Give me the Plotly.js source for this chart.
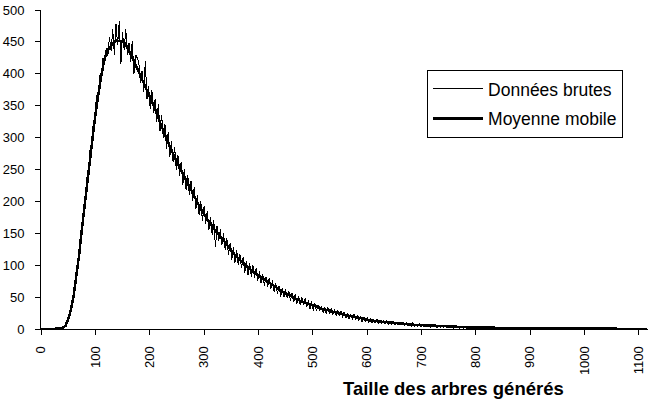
<!DOCTYPE html>
<html>
<head>
<meta charset="utf-8">
<script src="https://cdn.plot.ly/plotly-3.0.1.min.js"></script>
<style>
  html, body { margin: 0; padding: 0; background: #ffffff; }
  #chart { width: 649px; height: 399px; }
  #chart .scatterlayer path.js-line,
  #chart .legend path.js-line { shape-rendering: crispEdges; }
</style>
</head>
<body>
<div id="chart"></div>
<script>
// ---- Data ----
// Raw data ("Données brutes"): sampled every 3 units starting at x = 0
const rawStart = 0;
const rawStep = 3;
const rawValues = [
  0,0,0,0,0,0,0,0,0,0,
  0,0,1,2,2,6,9,19,25,40,
  58,64,95,101,138,150,186,196,236,244,
  280,283,322,328,366,361,398,390,425,415,
  440,428,458,436,470,430,478,445,482,415,
  465,438,470,430,448,418,452,400,430,425,
  418,385,405,372,420,360,380,345,375,338,
  360,325,352,310,335,300,322,282,308,270,
  295,262,285,250,272,240,262,226,250,218,
  242,210,232,200,222,188,210,178,200,170,
  192,165,185,155,176,148,170,128,162,138,
  156,132,150,124,142,116,135,108,128,104,
  124,100,118,95,112,88,106,85,104,82,
  100,80,96,76,90,72,86,68,82,66,
  80,63,76,58,72,55,68,51,64,50,
  63,48,60,44,56,42,55,40,52,38,
  50,37,48,34,45,32,43,29,40,28,
  38,28,36,26,35,24,34,23,32,22,
  31,21,29,20,28,18,27,17,25,16,
  24,15,23,14,21,13,20,11,19,11,
  18,10,17,10,15,9,16,8,14,8,
  14,8,13,7,13,7,12,6,11,6,
  11,6,11,5,10,5,9,4,10,4,
  8,4,9,3,8,3,8,3,7,3,
  7,3,6,2,6,2,6,2,6,2,
  5,2,5,1,5,2,4,1,4,1,
  4,1,4,1,3,1,4,1,3,1,
  3,1,3,1,2,1,3,2,2,1,
  2,1,3,1,2,1,2,2,2,1,
  2,1,2,1,2,1,2,1,2,1,
  2,1,1,1,2,0,2,1,1,1,
  1,1,2,0,1,1,1,0,2,1,
  1,0,1,1,2,2,2,2,1,1,
  1,0,1,0,0,0,0,0,0,0,
  0,0,0,0,0,0,0,0,0,0,
  0,0,0,0,0,0,0,0,0,0,
  0,0,0,0,0,0,0,0,0,0,
  0,0,0
];

// Moving average ("Moyenne mobile")
const maX = [
  0,30,35,40,45,50,55,60,65,70,75,80,85,90,95,100,105,110,115,120,
  125,130,135,140,145,150,155,160,165,170,175,180,185,190,195,200,
  210,220,230,240,250,260,270,280,290,300,310,320,330,340,350,360,370,380,390,400,
  410,420,430,440,450,460,470,480,490,500,510,520,530,540,550,560,570,580,590,600,
  610,620,630,640,650,660,670,680,690,700,710,720,730,740,750,760,770,780,790,800,
  820,840,860,880,900,920,940,960,980,1000,1010,1116
];
const maY = [
  0,0,0.5,2,5,15,30,52,80,115,155,192,235,268,300,335,365,393,415,432,
  440,446,450,452,452,451,447,440,431,422,412,403,394,385,375,365,
  345,322,300,280,262,245,228,211,195,180,167,155,145,134,123,113,105,97,90,84,
  78,72,66,61,56,51,47,43,40,36,33,31,29,26,24,22,20,18,16,14,
  13,12,11,10,9.5,9,8,7,6.5,6,5.5,5,4.5,4,3.7,3.4,3,2.7,2.5,2.2,
  2,1.8,1.6,1.4,1.2,1.1,1,1,1,0.5,0,0
];

const xTickVals = [0,100,200,300,400,500,600,700,800,900,1000,1100];
const yTickVals = [0,50,100,150,200,250,300,350,400,450,500];
const seriesNames = ["Données brutes", "Moyenne mobile"];
const xAxisTitle = "Taille des arbres générés";

// ---- Build traces ----
const rawX = rawValues.map((_, i) => rawStart + i * rawStep);

const FONT = "Arial, 'Liberation Sans', Helvetica, sans-serif";

const traces = [
  {
    type: "scatter", mode: "lines", name: seriesNames[0],
    x: rawX, y: rawValues,
    line: { color: "#000000", width: 1 },
    legendgroup: "a", hoverinfo: "skip"
  },
  {
    type: "scatter", mode: "lines", name: seriesNames[1],
    x: maX, y: maY,
    line: { color: "#000000", width: 2.5 },
    legendgroup: "b", hoverinfo: "skip"
  }
];

const layout = {
  width: 649, height: 399,
  margin: { l: 41, r: 1, t: 10, b: 70, pad: 0 },
  paper_bgcolor: "#ffffff", plot_bgcolor: "#ffffff",
  font: { family: FONT, color: "#000000", size: 13 },
  showlegend: true,
  legend: {
    x: 0.636, y: 0.812, xanchor: "left", yanchor: "top",
    bordercolor: "#000000", borderwidth: 1, bgcolor: "#ffffff",
    font: { family: FONT, size: 17.5, color: "#000000" },
    tracegroupgap: 4, itemwidth: 50
  },
  xaxis: {
    range: [0, 1117], showgrid: false, zeroline: false,
    showline: true, linecolor: "#000000", linewidth: 1,
    ticks: "outside", ticklen: 5, tickcolor: "#000000", tickwidth: 1,
    tickmode: "array", tickvals: xTickVals, ticktext: xTickVals.map(String),
    tickangle: -90, tickfont: { family: FONT, size: 13, color: "#000000" },
    ticklabelstandoff: 6, fixedrange: true
  },
  yaxis: {
    range: [0, 500], showgrid: false, zeroline: false,
    showline: true, linecolor: "#000000", linewidth: 1,
    ticks: "outside", ticklen: 5, tickcolor: "#000000", tickwidth: 1,
    tickmode: "array", tickvals: yTickVals, ticktext: yTickVals.map(String),
    tickfont: { family: FONT, size: 13, color: "#000000" },
    ticklabelstandoff: 8, fixedrange: true
  },
  annotations: [
    {
      text: "<b>" + xAxisTitle + "</b>",
      xref: "paper", yref: "paper", x: 0.68, y: -0.185,
      xanchor: "center", yanchor: "middle", showarrow: false,
      font: { family: FONT, size: 18.5, color: "#000000" }
    }
  ]
};

Plotly.newPlot("chart", traces, layout, { staticPlot: true, displayModeBar: false });
</script>
</body>
</html>
